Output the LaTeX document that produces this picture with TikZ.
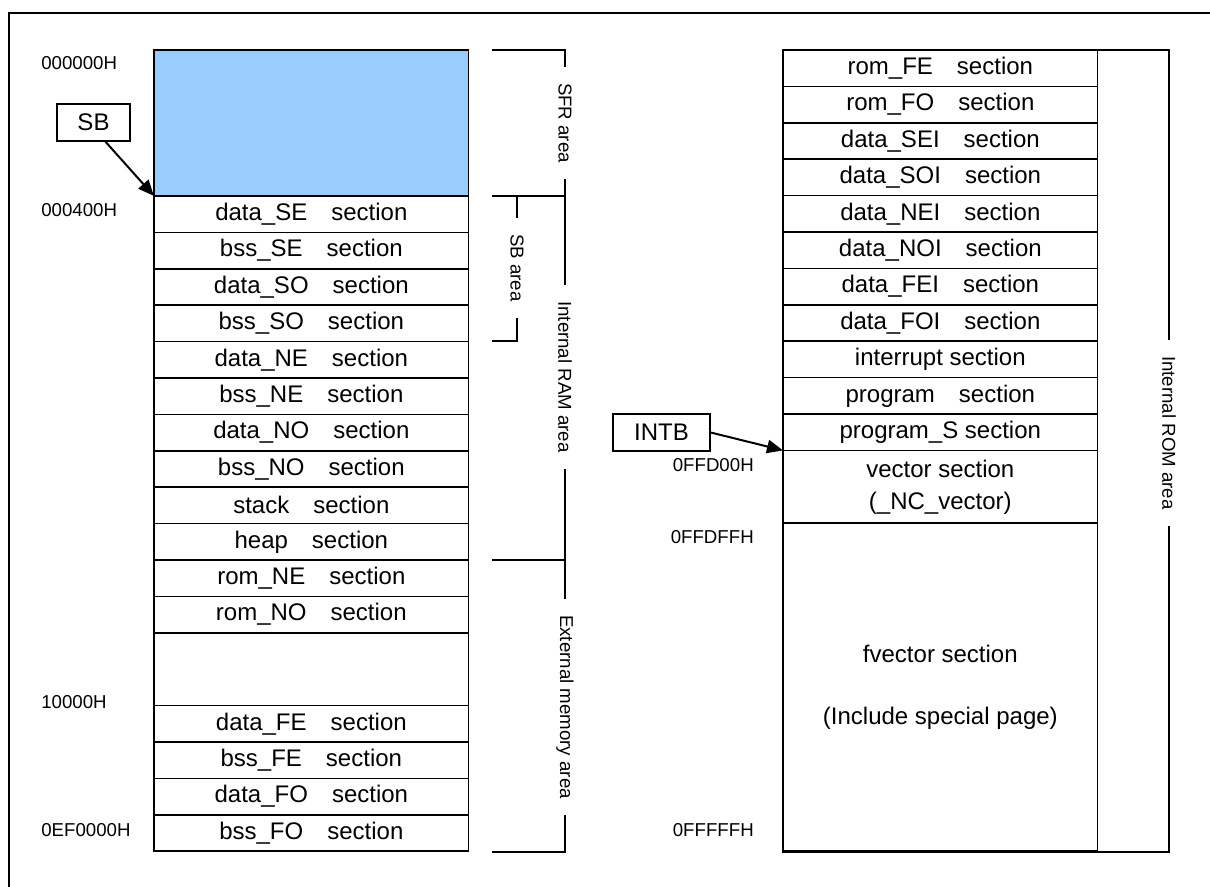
\documentclass[tikz,border=0pt]{standalone}
\usepackage{fontspec}
\setmainfont{Liberation Sans}
\usetikzlibrary{arrows.meta,positioning}
\definecolor{sfrblue}{HTML}{99CCFF}
\definecolor{ink}{HTML}{000000}
\tikzset{
  sect/.style={draw=ink,line width=1.2pt,fill=white,minimum width=236pt,minimum height=27.3pt,inner sep=0pt,outer sep=0pt,font=\fontsize{18}{24}\selectfont,align=center},
  sfrbox/.style={sect,fill=sfrblue,minimum height=109.5pt},
  dblbox/.style={sect,minimum height=54.6pt},
  regbox/.style={draw=ink,line width=1.1pt,inner sep=0pt,minimum height=27.75pt,font=\fontsize{18}{20}\selectfont},
  addr/.style={font=\fontsize{14}{16}\selectfont,inner sep=0pt},
  arealbl/.style={rotate=-90,fill=white,inner xsep=12pt,inner ysep=1pt,font=\fontsize{14}{16}\selectfont},
  brk/.style={line width=1.2pt,draw=ink},
  ptr/.style={-{Triangle[length=12pt,width=10pt]},line width=1.5pt,draw=ink}
}

\begin{document}
\begin{tikzpicture}[x=0.75pt,y=-0.75pt]
\useasboundingbox (0,0) rectangle (1210,887);
\draw[line width=1.6pt] (9,887) -- (9,13) -- (1210,13);

% RAM side
\node[sfrbox,anchor=north west] (sfr) at (154,50) {};
\node[sect,below=0pt of sfr] (dataSE) {data\_SE\quad section};
\node[sect,below=0pt of dataSE] (bssSE) {bss\_SE\quad section};
\node[sect,below=0pt of bssSE] (dataSO) {data\_SO\quad section};
\node[sect,below=0pt of dataSO] (bssSO) {bss\_SO\quad section};
\node[sect,below=0pt of bssSO] (dataNE) {data\_NE\quad section};
\node[sect,below=0pt of dataNE] (bssNE) {bss\_NE\quad section};
\node[sect,below=0pt of bssNE] (dataNO) {data\_NO\quad section};
\node[sect,below=0pt of dataNO] (bssNO) {bss\_NO\quad section};
\node[sect,below=0pt of bssNO] (stack) {stack\quad section};
\node[sect,below=0pt of stack] (heap) {heap\quad section};
\node[sect,below=0pt of heap] (romNE) {rom\_NE\quad section};
\node[sect,below=0pt of romNE] (romNO) {rom\_NO\quad section};
\node[dblbox,below=0pt of romNO] (hole) {};
\node[sect,below=0pt of hole] (dataFE) {data\_FE\quad section};
\node[sect,below=0pt of dataFE] (bssFE) {bss\_FE\quad section};
\node[sect,below=0pt of bssFE] (dataFO) {data\_FO\quad section};
\node[sect,below=0pt of dataFO] (bssFO) {bss\_FO\quad section};

\node[addr,anchor=west] (a0) at (41,63) {000000H};
\node[addr,anchor=west] (a400) at (41,210) {000400H};
\node[addr,anchor=west] (a10k) at (41,702) {10000H};
\node[addr,anchor=west] (aef) at (41,830) {0EF0000H};

\node[regbox,minimum width=54.75pt] (sb) at (93.5,122.5) {SB};
\draw[ptr] ([xshift=9pt]sb.south) -- (dataSE.north west);

% area brackets
\draw[brk] (492,50) -- (565,50) -- (565,852) -- (492,852);
\draw[brk] (492,196) -- (565,196);
\draw[brk] (492,560) -- (565,560);
\draw[brk] (517,196) -- (517,341) -- (492,341);
\node[arealbl] (sfrlbl) at (565,123) {SFR area};
\node[arealbl] (sblbl) at (517,268) {SB area};
\node[arealbl] (ramlbl) at (565,377) {Internal RAM area};
\node[arealbl] (extlbl) at (565,707) {External memory area};

% ROM side
\draw[brk] (783,50) rectangle (1169,852);
\node[sect,anchor=north west] (romFE) at (783,50) {rom\_FE\quad section};
\node[sect,below=0pt of romFE] (romFO) {rom\_FO\quad section};
\node[sect,below=0pt of romFO] (dataSEI) {data\_SEI\quad section};
\node[sect,below=0pt of dataSEI] (dataSOI) {data\_SOI\quad section};
\node[sect,below=0pt of dataSOI] (dataNEI) {data\_NEI\quad section};
\node[sect,below=0pt of dataNEI] (dataNOI) {data\_NOI\quad section};
\node[sect,below=0pt of dataNOI] (dataFEI) {data\_FEI\quad section};
\node[sect,below=0pt of dataFEI] (dataFOI) {data\_FOI\quad section};
\node[sect,below=0pt of dataFOI] (intr) {interrupt section};
\node[sect,below=0pt of intr] (prog) {program\quad section};
\node[sect,below=0pt of prog] (progS) {program\_S section};
\node[dblbox,below=0pt of progS] (vect) {vector section\\(\_NC\_vector)};
\node[sect,minimum height=246pt,below=0pt of vect] (fvect) {fvector section\\[22pt](Include special page)};
\node[arealbl] (romlbl) at (1169,433) {Internal ROM area};

\node[addr,anchor=east] (afd00) at (754,465) {0FFD00H};
\node[addr,anchor=east] (afdff) at (754,537) {0FFDFFH};
\node[addr,anchor=east] (afff) at (754,830) {0FFFFFH};

\node[regbox,minimum width=72.75pt] (intb) at (661.5,432.5) {INTB};
\draw[ptr] (intb.east) -- (progS.south west);
\end{tikzpicture}
\end{document}
